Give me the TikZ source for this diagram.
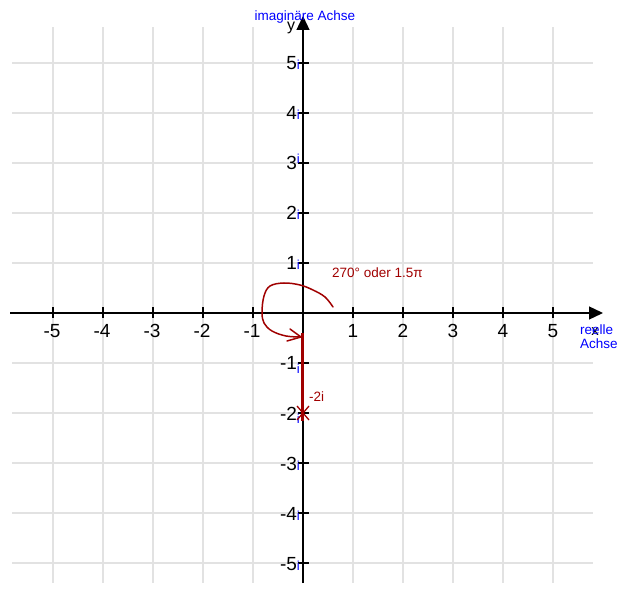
\documentclass[tikz,border=0pt]{standalone}
\usepackage{fontspec}
\setmainfont{Liberation Sans}
\usetikzlibrary{arrows.meta,calc}
\definecolor{gridgray}{RGB}{226,226,226}
\definecolor{darkred}{RGB}{160,0,0}
\definecolor{axisblue}{RGB}{0,0,255}
\begin{document}
\begin{tikzpicture}[x=1pt,y=-1pt,
  gridline/.style={gridgray,line width=2pt},
  axisline/.style={black,line width=1.3pt},
  ticknum/.style={font=\fontsize{19}{19}\selectfont,inner sep=0pt},
  bluetext/.style={text=axisblue,font=\fontsize{13.5}{15}\selectfont,inner sep=0pt,align=left},
  redtext/.style={text=darkred,font=\fontsize{13.5}{15}\selectfont,inner sep=0pt},
  redpen/.style={darkred,line width=1.5pt,line cap=round,line join=round}]
\useasboundingbox (0,0) rectangle (629,593);
% grid
\foreach \k in {-5,...,5} {
  \draw[gridline] ({303+50*\k},27) -- ({303+50*\k},583);
  \draw[gridline] (12,{313-50*\k}) -- (593,{313-50*\k});
}
% axes
\coordinate (xs) at (10,313);
\coordinate (xe) at (603,313);
\coordinate (ys) at (303,583);
\coordinate (ye) at (303,16);
\draw[axisline,-{Triangle[length=14pt,width=13pt]}] (xs) -- (xe);
\draw[axisline,-{Triangle[length=14pt,width=13pt]}] (ys) -- (ye);
% ticks
\foreach \k in {-5,...,-1,1,2,3,4,5} {
  \draw[axisline] ({303+50*\k},307.5) -- ({303+50*\k},318.5);
  \draw[axisline] (297.5,{313-50*\k}) -- (308.5,{313-50*\k});
}
% x tick labels
\foreach \k in {-5,...,-1} {
  \node[ticknum,anchor=base] (xl\k) at ({303+50*\k-1},338) {-\the\numexpr-\k\relax};
}
\foreach \k in {1,...,5} {
  \node[ticknum,anchor=base] (xl\k) at ({303+50*\k},338) {\k};
}
% y tick labels
\newcommand{\ii}{\textcolor{axisblue}{\fontsize{13}{13}\selectfont i}}
\node[ticknum,anchor=base east] (yl5) at (300,70) {5\ii};
\node[ticknum,anchor=base east] (yl4) at (300,120) {4\ii};
\node[ticknum,anchor=base east] (yl3) at (300,170) {3\raisebox{6pt}{\ii}};
\node[ticknum,anchor=base east] (yl2) at (300,220) {2\ii};
\node[ticknum,anchor=base east] (yl1) at (300,270) {1\ii};
\node[ticknum,anchor=base east] (ylm1) at (300,370) {-1\raisebox{-4pt}{\ii}};
\node[ticknum,anchor=base east] (ylm2) at (300,420) {-2\raisebox{-3pt}{\ii}};
\node[ticknum,anchor=base east] (ylm3) at (300,470) {-3\ii};
\node[ticknum,anchor=base east] (ylm4) at (300,520) {-4\ii};
\node[ticknum,anchor=base east] (ylm5) at (300,570) {-5\ii};
% axis names
\node[font=\fontsize{16}{16}\selectfont,inner sep=0pt,anchor=base] (ylab) at (291,31) {y};
\node[bluetext,anchor=base] (imag) at (305,21) {imaginäre Achse};
\node[font=\fontsize{15}{15}\selectfont,inner sep=0pt,anchor=base] (xlab) at (595,336) {x};
\node[bluetext,anchor=north west,font=\fontsize{13.5}{14}\selectfont] (reel) at (580,325) {reelle\\Achse};
% red annotation
\node[redtext,anchor=base west] (angle) at (332,278) {270° oder 1.5π};
\coordinate (sp0) at (333,307);
\coordinate (tip) at (301,337);
\draw[redpen] plot[smooth,tension=0.6] coordinates {(333,307) (325,297) (313,290) (300,285) (284,283) (270,286) (264,296) (262,312) (264,323) (272,331) (286,336) (301,337)};
\draw[redpen] (290,329) -- (tip) -- (287,341);
\coordinate (ls) at (302.5,333);
\coordinate (le) at (302.5,421);
\draw[darkred,line width=3pt] (ls) -- (le);
\coordinate (cx) at (303,413);
\draw[darkred,line width=1.3pt] ($(cx)+(-6,-7)$) -- ($(cx)+(6,7)$) ($(cx)+(-6,7)$) -- ($(cx)+(6,-7)$);
\node[redtext,anchor=base west] (m2i) at (309,402) {-2i};
\end{tikzpicture}
\end{document}
